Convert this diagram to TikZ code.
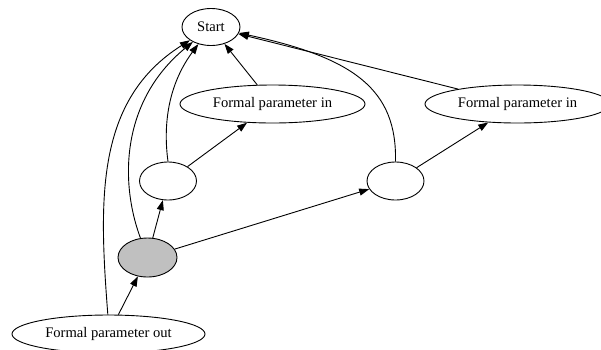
\documentclass[tikz,border=0pt]{standalone}
\usepackage{fontspec}
\setmainfont{Liberation Serif}
\usetikzlibrary{shapes.geometric,arrows.meta}
\begin{document}
\begin{tikzpicture}[x=1pt,y=-1pt,
  nd/.style={ellipse,draw,line width=0.9pt,inner sep=0pt,font=\fontsize{14.6pt}{16pt}\selectfont},
  small/.style={nd,minimum width=57pt,minimum height=38pt},
  wide/.style={nd,minimum width=185pt,minimum height=38pt},
  edge/.style={draw,line width=0.9pt,-{Triangle[length=10pt,width=7pt]}}]
\useasboundingbox (0,0) rectangle (601,349);
\node[nd,minimum width=58pt,minimum height=37pt] (start) at (211,27) {Start};
\node[wide] (l) at (272.5,104) {Formal parameter in};
\node[wide] (r) at (517.5,104) {Formal parameter in};
\node[small] (e1) at (168,181) {};
\node[small] (e2) at (395.5,181) {};
\node[small,fill={rgb,255:red,192;green,192;blue,192},minimum width=59pt,minimum height=39pt] (g) at (147.5,257.5) {};
\node[nd,minimum width=193pt,minimum height=38pt] (o) at (108.5,334) {Formal parameter out};
\draw[edge] (l) -- (start);
\draw[edge] (r) -- (start);
\draw[edge] (e2.north) .. controls (397,90) and (355,58) .. (start);
\draw[edge] (e1) -- (l);
\draw[edge] (e1.north) .. controls (163,125) and (168,85) .. (start);
\draw[edge] (g.110) .. controls (119,180) and (122,100) .. (start);
\draw[edge] (o.92) .. controls (99,200) and (95,100) .. (start);
\draw[edge] (o) -- (g);
\draw[edge] (g) -- (e1);
\draw[edge] (g) -- (e2);
\draw[edge] (e2) -- (r);
\end{tikzpicture}
\end{document}
